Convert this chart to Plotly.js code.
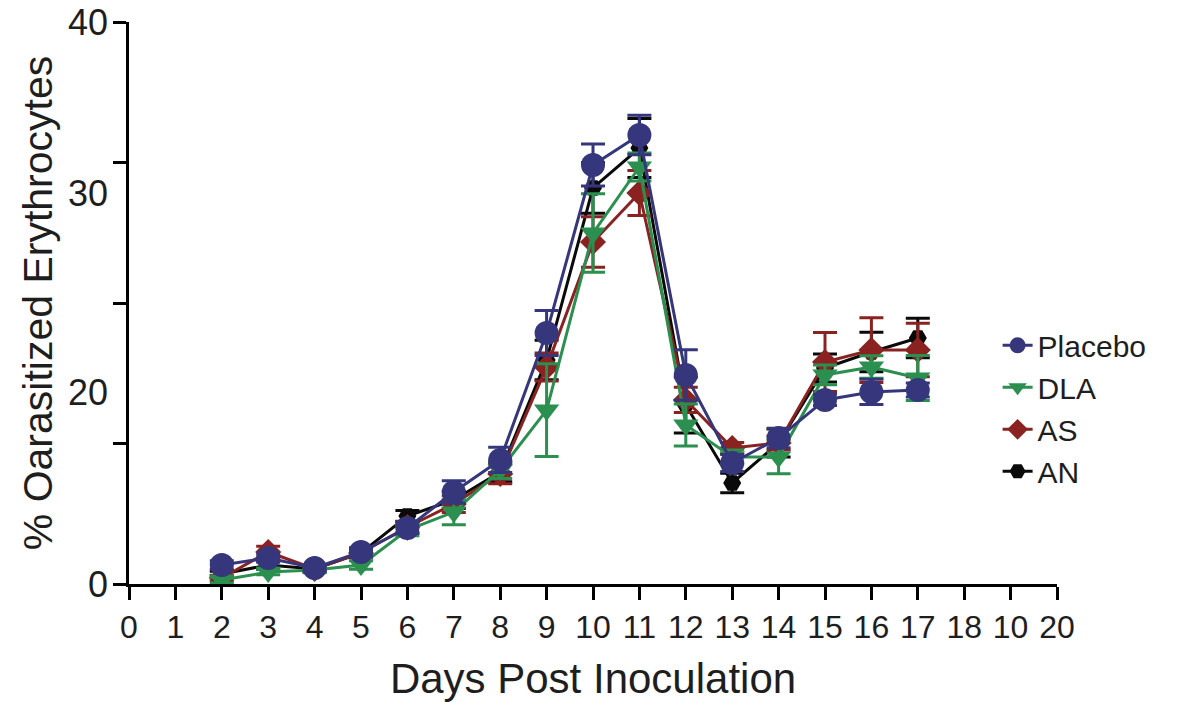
<!DOCTYPE html>
<html>
<head>
<meta charset="utf-8">
<script src="https://cdn.plot.ly/plotly-3.0.1.min.js"></script>
<style>
  html, body { margin: 0; padding: 0; background: #ffffff; }
  #chart { width: 1181px; height: 702px; }
</style>
</head>
<body>
<div id="chart"></div>
<script>
// ---- data ----
const days = [2, 3, 4, 5, 6, 7, 8, 9, 10, 11, 12, 13, 14, 15, 16, 17];

const placebo    = [1.35, 1.85, 1.14, 2.28, 3.99, 6.55, 8.83, 17.86, 29.82, 31.96, 14.88, 8.61, 10.39, 13.10, 13.67, 13.81];
const placeboErr = [0.3, 0.3, 0.2, 0.3, 0.4, 0.8, 0.9, 1.6, 1.5, 1.4, 1.8, 0.6, 0.7, 0.4, 0.9, 0.5];

const dla        = [0.28, 0.85, 1.00, 1.35, 3.84, 5.12, 8.11, 12.38, 24.98, 29.68, 11.32, 9.04, 9.04, 14.88, 15.44, 14.66];
const dlaErr     = [0.2, 0.2, 0.2, 0.3, 0.4, 0.9, 0.6, 3.3, 2.8, 1.0, 1.5, 0.5, 1.2, 0.7, 0.8, 1.6];

const as         = [0.43, 2.28, 1.07, 2.21, 4.06, 5.69, 7.83, 15.44, 24.34, 27.83, 13.10, 9.68, 10.04, 15.80, 16.65, 16.65];
const asErr      = [0.2, 0.4, 0.2, 0.3, 0.4, 0.6, 0.7, 1.0, 1.8, 1.6, 0.9, 0.4, 0.5, 2.1, 2.3, 1.9];

const an         = [0.71, 1.35, 1.07, 2.21, 4.84, 5.98, 7.97, 15.94, 28.19, 31.03, 12.74, 7.19, 10.04, 15.37, 16.51, 17.51];
const anErr      = [0.2, 0.3, 0.2, 0.3, 0.4, 0.6, 0.7, 1.4, 1.8, 2.1, 2.0, 0.7, 1.0, 1.0, 1.4, 1.4];

const xTickVals  = [0, 1, 2, 3, 4, 5, 6, 7, 8, 9, 10, 11, 12, 13, 14, 15, 16, 17, 18, 19, 20];
const xTickText  = ["0", "1", "2", "3", "4", "5", "6", "7", "8", "9", "10", "11", "12", "13", "14", "15", "16", "17", "18", "10", "20"];
const yTickMarks = [0, 10, 20, 30, 40];
const yLabelVals = [0, 13.67, 27.83, 40];
const yLabelText = ["0", "20", "30", "40"];

// ---- styling ----
const FONT = "Liberation Sans, Arial, Helvetica, sans-serif";
const TXT = "#1e1e1e";

function series(name, y, err, color, symbol, size) {
  return {
    type: "scatter",
    mode: "lines+markers",
    name: name,
    x: days,
    y: y,
    line: { color: color, width: 3 },
    marker: { color: color, symbol: symbol, size: size },
    error_y: { type: "data", array: err, visible: true, color: color, thickness: 3, width: 12 }
  };
}

const traces = [
  series("AN", an, anErr, "#0a0a0a", "hexagon2", 18),
  series("AS", as, asErr, "#8a2222", "diamond", 20),
  series("DLA", dla, dlaErr, "#2a8f4f", "triangle-down", 22),
  series("Placebo", placebo, placeboErr, "#35367c", "circle", 24),
  // carrier for the left-hand label axis (draws nothing)
  { type: "scatter", mode: "markers", x: [days[0]], y: [null], yaxis: "y2",
    showlegend: false, hoverinfo: "skip", marker: { opacity: 0 } }
];

const layout = {
  width: 1181,
  height: 702,
  margin: { l: 129, r: 124, t: 22, b: 118 },
  paper_bgcolor: "#ffffff",
  plot_bgcolor: "#ffffff",
  font: { family: FONT, color: TXT },
  showlegend: true,
  legend: {
    x: 0.936, xanchor: "left",
    y: 0.471, yanchor: "top",
    traceorder: "reversed",
    font: { family: FONT, size: 30, color: TXT },
    bgcolor: "rgba(0,0,0,0)"
  },
  xaxis: {
    range: [0, 20],
    tickmode: "array",
    tickvals: xTickVals,
    ticktext: xTickText,
    ticks: "outside",
    ticklen: 13,
    tickwidth: 3,
    tickcolor: "#000",
    showline: true,
    linewidth: 3,
    linecolor: "#000",
    showgrid: false,
    zeroline: false,
    tickfont: { family: FONT, size: 32, color: TXT },
    title: { text: "Days Post Inoculation", font: { family: FONT, size: 42, color: TXT }, standoff: 22 },
    automargin: false
  },
  yaxis: {
    range: [0, 40],
    tickmode: "array",
    tickvals: yTickMarks,
    showticklabels: false,
    ticks: "outside",
    ticklen: 13,
    tickwidth: 3,
    tickcolor: "#000",
    showline: true,
    linewidth: 3,
    linecolor: "#000",
    showgrid: false,
    zeroline: false,
    automargin: false
  },
  yaxis2: {
    overlaying: "y",
    anchor: "x",
    side: "left",
    range: [0, 40],
    tickmode: "array",
    tickvals: yLabelVals,
    ticktext: yLabelText,
    ticks: "",
    showline: false,
    showgrid: false,
    zeroline: false,
    ticklabelstandoff: 20,
    tickfont: { family: FONT, size: 36, color: TXT },
    title: { text: "% Oarasitized Erythrocytes", font: { family: FONT, size: 41, color: TXT }, standoff: 2 },
    automargin: false
  }
};

Plotly.newPlot("chart", traces, layout, { displayModeBar: false, staticPlot: true });
</script>
</body>
</html>
